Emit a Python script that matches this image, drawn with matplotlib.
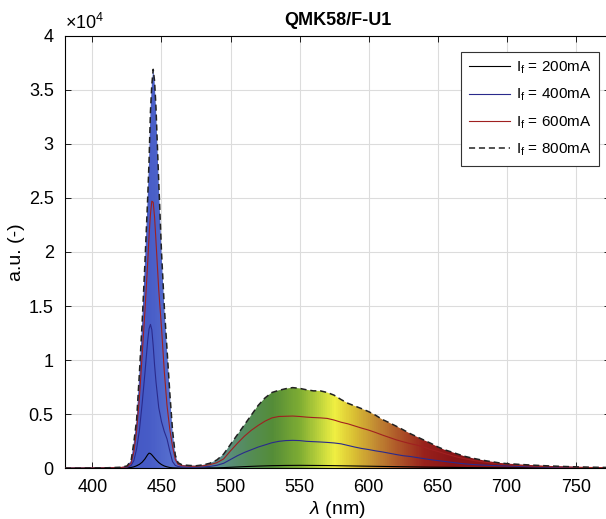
"""Spectral power distribution of QMK58/F-U1 at four drive currents."""

import numpy as np
import matplotlib
matplotlib.use("Agg")
import matplotlib.pyplot as plt
from matplotlib.colors import LinearSegmentedColormap
from matplotlib.ticker import FuncFormatter, MultipleLocator

# wavelength grid (nm)
wavelength = [
    380, 390, 400, 410, 420, 425, 428, 430, 432, 434, 436, 438, 440, 441, 442,
    443, 444, 445, 446, 448, 450, 452, 454, 456, 458, 460, 462, 465, 470, 475,
    480, 485, 490, 495, 500, 505, 510, 515, 520, 525, 530, 535, 540, 545, 550,
    555, 560, 565, 570, 575, 580, 585, 590, 595, 600, 605, 610, 615, 620, 625,
    630, 635, 640, 645, 650, 655, 660, 665, 670, 675, 680, 685, 690, 695, 700,
    710, 720, 730, 740, 750, 760, 770, 775,
]

i_200 = [
    0, 0, 0, 5, 10, 20, 60, 120, 220, 350, 550, 850, 1250, 1390, 1350,
    1230, 1080, 930, 780, 520, 330, 200, 120, 60, 30, 20, 10, 10, 10, 15,
    20, 25, 30, 50, 80, 110, 140, 165, 190, 210, 230, 240, 250, 255, 260,
    255, 250, 245, 240, 230, 220, 210, 200, 190, 180, 170, 160, 150, 140, 130,
    120, 110, 100, 92, 85, 78, 70, 62, 55, 50, 45, 40, 35, 32, 30,
    25, 20, 18, 15, 12, 10, 9, 8,
]

i_400 = [
    0, 0, 5, 10, 30, 80, 250, 700, 1800, 3500, 6000, 8800, 11800, 12900, 13300,
    12800, 11300, 9500, 8000, 5600, 4300, 3400, 2700, 1600, 600, 250, 150, 110, 90, 90,
    110, 160, 260, 450, 800, 1150, 1450, 1700, 1950, 2150, 2350, 2480, 2550, 2570, 2550,
    2480, 2450, 2420, 2380, 2330, 2250, 2100, 1950, 1820, 1720, 1600, 1500, 1380, 1260, 1150,
    1080, 980, 880, 780, 700, 620, 540, 460, 390, 340, 300, 270, 240, 220, 200,
    160, 125, 95, 75, 58, 42, 32, 26,
]

i_600 = [
    0, 0, 10, 20, 50, 130, 450, 1500, 3500, 6500, 10500, 14500, 19000, 21500, 23500,
    24700, 24600, 23200, 21000, 16500, 13000, 9000, 5800, 3600, 2000, 800, 350, 220, 180, 170,
    220, 320, 500, 850, 1600, 2300, 2950, 3500, 3950, 4350, 4650, 4780, 4800, 4820, 4780,
    4720, 4680, 4650, 4600, 4450, 4250, 4100, 3900, 3700, 3520, 3300, 3060, 2840, 2620, 2440,
    2270, 2130, 1950, 1720, 1550, 1350, 1170, 1000, 860, 740, 630, 540, 460, 390, 330,
    240, 180, 140, 105, 80, 60, 45, 40,
]

i_800 = [
    0, 0, 20, 30, 80, 200, 700, 2400, 4500, 8800, 13500, 19000, 25000, 28500, 33000,
    35500, 36900, 35800, 33400, 26500, 20000, 15000, 11000, 7000, 3500, 1200, 500, 300, 250, 220,
    300, 450, 750, 1300, 2200, 3100, 4000, 4900, 5800, 6500, 7000, 7200, 7350, 7450, 7380,
    7250, 7150, 7150, 7000, 6750, 6350, 6000, 5750, 5500, 5230, 4900, 4500, 4200, 3880, 3550,
    3200, 2900, 2600, 2300, 1970, 1700, 1500, 1280, 1080, 930, 800, 680, 580, 480, 420,
    340, 270, 210, 160, 120, 90, 70, 60,
]

labels = [r"I$_\mathregular{f}$ = 200mA", r"I$_\mathregular{f}$ = 400mA",
          r"I$_\mathregular{f}$ = 600mA", r"I$_\mathregular{f}$ = 800mA"]

# colour stops used to paint the area under the 800mA curve
spectrum_nm = [380, 440, 462, 478, 495, 512, 530, 550, 565, 575, 590, 605, 622, 640, 660, 775]
spectrum_rgb = [
    (0.24, 0.30, 0.74), (0.28, 0.36, 0.78), (0.36, 0.46, 0.82), (0.36, 0.52, 0.66),
    (0.36, 0.56, 0.52), (0.33, 0.55, 0.35), (0.33, 0.55, 0.22), (0.50, 0.68, 0.20),
    (0.76, 0.84, 0.24), (0.94, 0.94, 0.26), (0.85, 0.74, 0.20), (0.76, 0.54, 0.20),
    (0.68, 0.33, 0.16), (0.60, 0.13, 0.11), (0.54, 0.08, 0.09), (0.50, 0.07, 0.08),
]

plt.rcParams.update(
    {
        "font.family": ["Liberation Sans", "DejaVu Sans"],
        "mathtext.fontset": "custom",
        "mathtext.rm": "Liberation Sans",
        "mathtext.it": "Liberation Sans:italic",
        "font.size": 13,
    }
)

fig = plt.figure(figsize=(6.06, 5.19), dpi=100)
ax = fig.add_axes([0.107, 0.098, 0.900, 0.833])

x_lo, x_hi = 380, 775
y_hi = 40000

# gradient fill clipped to the 800mA envelope
pos = [(w - x_lo) / (x_hi - x_lo) for w in spectrum_nm]
cmap = LinearSegmentedColormap.from_list("spec", list(zip(pos, spectrum_rgb)))
env = ax.fill_between(wavelength, 0, i_800, facecolor="none", edgecolor="none")
grad = np.linspace(0, 1, 800).reshape(1, -1)
im = ax.imshow(grad, extent=[x_lo, x_hi, 0, y_hi], aspect="auto", cmap=cmap,
               origin="lower", zorder=1, interpolation="bilinear")
im.set_clip_path(env.get_paths()[0], transform=ax.transData)

ax.plot(wavelength, i_200, color="black", lw=0.8, zorder=3, label=labels[0])
ax.plot(wavelength, i_400, color="#2a2a8c", lw=0.8, zorder=3, label=labels[1])
ax.plot(wavelength, i_600, color="#a02020", lw=0.8, zorder=3, label=labels[2])
ax.plot(wavelength, i_800, color="#222222", lw=1.1, ls=(0, (4, 2.5)), zorder=4,
        label=labels[3])

ax.set_xlim(x_lo, x_hi)
ax.set_ylim(0, y_hi)
ax.xaxis.set_major_locator(MultipleLocator(50))
ax.yaxis.set_major_locator(MultipleLocator(5000))
ax.yaxis.set_major_formatter(FuncFormatter(lambda v, p: f"{v / 1e4:g}"))
ax.text(0.0, 1.006, r"$\times$10$^\mathregular{4}$", transform=ax.transAxes,
        ha="left", va="bottom", fontsize=13)

ax.grid(True, color="#dcdcdc", lw=0.8)
ax.set_axisbelow(True)
ax.tick_params(direction="in", length=4, width=0.6, top=True, right=True,
               labelsize=13, pad=8)
for s in ax.spines.values():
    s.set_linewidth(0.8)

ax.set_title("QMK58/F-U1", fontweight="bold", fontsize=13, pad=8)
ax.set_xlabel(r"$\lambda$ (nm)", fontsize=14, labelpad=2)
ax.set_ylabel("a.u. (-)", fontsize=14)
ax.yaxis.set_label_coords(-0.073, 0.5)

leg = ax.legend(loc="upper right", bbox_to_anchor=(0.991, 0.977), fontsize=11,
                fancybox=False, framealpha=1, edgecolor="#333333",
                handlelength=2.7, handletextpad=0.4, borderpad=0.5,
                labelspacing=0.72, borderaxespad=0.4)
leg.get_frame().set_linewidth(0.8)

fig.savefig("out.png", dpi=100)
